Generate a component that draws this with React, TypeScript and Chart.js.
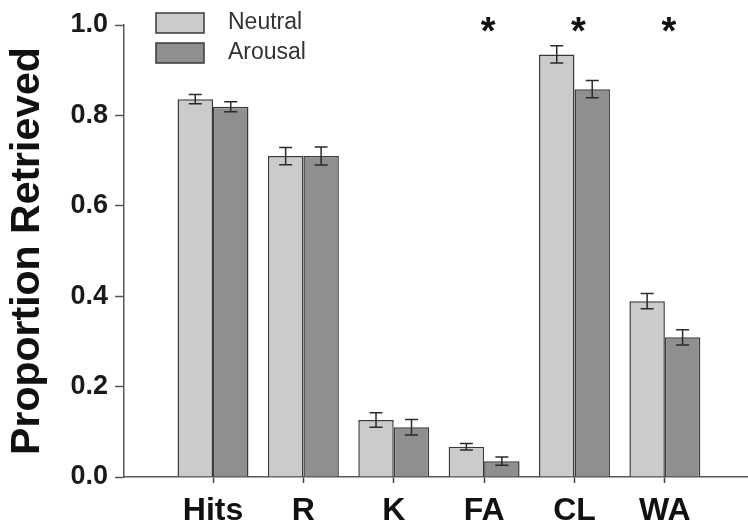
import React, { useEffect, useRef } from "react";
import { Chart, registerables } from "chart.js";

Chart.register(...registerables);

const categories = ["Hits", "R", "K", "FA", "CL", "WA"];
const neutralValues = [0.836, 0.71, 0.126, 0.067, 0.935, 0.389];
const neutralErrors = [0.01, 0.019, 0.016, 0.007, 0.019, 0.017];
const arousalValues = [0.819, 0.71, 0.11, 0.035, 0.858, 0.309];
const arousalErrors = [0.011, 0.02, 0.017, 0.009, 0.019, 0.017];
const significant = [false, false, false, true, true, true];
const yTickValues = [0, 0.2, 0.4, 0.6, 0.8, 1.0];
const seriesNames = ["Neutral", "Arousal"];

const FONT = "'Liberation Sans', Arial, Helvetica, sans-serif";
const NEUTRAL_FILL = "#cbcbcb";
const AROUSAL_FILL = "#8f8f8f";
const EDGE = "#3a3a3a";

const valueSets = [neutralValues, arousalValues];
const errorSets = [neutralErrors, arousalErrors];
const fills = [NEUTRAL_FILL, AROUSAL_FILL];

const errorBarPlugin = {
  id: "errorBars",
  afterDatasetsDraw(chart: any) {
    const ctx = chart.ctx;
    const y = chart.scales.y;
    ctx.save();
    ctx.strokeStyle = "#2a2a2a";
    ctx.lineWidth = 1.5;
    chart.data.datasets.forEach((_: any, d: number) => {
      const meta = chart.getDatasetMeta(d);
      meta.data.forEach((bar: any, i: number) => {
        const v = valueSets[d][i];
        const e = errorSets[d][i];
        const x = bar.x;
        const y1 = y.getPixelForValue(v + e);
        const y2 = y.getPixelForValue(v - e);
        const cap = 6.5;
        ctx.beginPath();
        ctx.moveTo(x, y1);
        ctx.lineTo(x, y2);
        ctx.moveTo(x - cap, y1);
        ctx.lineTo(x + cap, y1);
        ctx.moveTo(x - cap, y2);
        ctx.lineTo(x + cap, y2);
        ctx.stroke();
      });
    });
    ctx.restore();
  },
};

const extrasPlugin = {
  id: "extras",
  afterDraw(chart: any) {
    const ctx = chart.ctx;
    const xs = chart.scales.x;
    ctx.save();
    // legend
    seriesNames.forEach((name, k) => {
      const top = 13 + k * 30;
      ctx.fillStyle = fills[k];
      ctx.fillRect(156, top, 48, 20);
      ctx.strokeStyle = EDGE;
      ctx.lineWidth = 1.5;
      ctx.strokeRect(156, top, 48, 20);
      ctx.fillStyle = "#333";
      ctx.font = `23px ${FONT}`;
      ctx.textBaseline = "middle";
      ctx.textAlign = "left";
      ctx.fillText(name, 228, top + 10);
    });
    // significance asterisks
    ctx.fillStyle = "#111";
    ctx.font = `bold 38px ${FONT}`;
    ctx.textAlign = "center";
    ctx.textBaseline = "alphabetic";
    significant.forEach((s, i) => {
      if (!s) return;
      const x = xs.getPixelForValue(i) + 4;
      ctx.fillText("*", x, 44);
    });
    ctx.restore();
  },
};

export default function App() {
  const ref = useRef<HTMLCanvasElement | null>(null);
  useEffect(() => {
    document.body.style.margin = "0";
    if (!ref.current) return;
    const chart = new Chart(ref.current, {
      type: "bar",
      data: {
        datasets: seriesNames.map((name, d) => ({
          label: name,
          data: categories.map((_, i) => ({ x: i, y: valueSets[d][i] })),
          backgroundColor: fills[d],
          borderColor: EDGE,
          borderWidth: 1.5,
          categoryPercentage: 0.785,
          barPercentage: 1,
        })),
      },
      options: {
        responsive: false,
        animation: false,
        devicePixelRatio: 1,
        layout: { padding: { top: 25, right: 0, left: 0, bottom: 0 } },
        plugins: { legend: { display: false }, tooltip: { enabled: false } },
        scales: {
          x: {
            type: "linear",
            min: -0.985,
            max: 5.92,
            offset: false,
            grid: {
              display: true,
              offset: false,
              drawOnChartArea: false,
              drawTicks: true,
              tickLength: 6,
              tickColor: "#444",
              tickWidth: 1.5,
            },
            border: { display: true, color: "#555", width: 1.5 },
            afterBuildTicks: (s: any) => {
              s.ticks = categories.map((_, i) => ({ value: i }));
            },
            afterFit: (s: any) => {
              s.height = 48;
            },
            ticks: {
              autoSkip: false,
              maxRotation: 0,
              padding: 9,
              color: "#111",
              font: { family: FONT, size: 32, weight: "bold" },
              callback: (v: any) => categories[Math.round(v)] ?? "",
            },
          },
          y: {
            min: 0,
            max: 1,
            afterBuildTicks: (s: any) => {
              s.ticks = yTickValues.map((v) => ({ value: v }));
            },
            afterFit: (s: any) => {
              s.width = 124;
            },
            grid: {
              display: true,
              drawOnChartArea: false,
              drawTicks: true,
              tickLength: 9,
              tickColor: "#555",
              tickWidth: 1.5,
            },
            border: { display: true, color: "#555", width: 1.5 },
            ticks: {
              padding: 7,
              color: "#1a1a1a",
              font: { family: FONT, size: 27, weight: "bold" },
              callback: (v: any) => Number(v).toFixed(1),
            },
            title: {
              display: true,
              text: "Proportion Retrieved",
              color: "#111",
              font: { family: FONT, size: 41, weight: "bold" },
              padding: { top: 3, bottom: 0 },
            },
          },
        },
      },
      plugins: [errorBarPlugin, extrasPlugin],
    } as any);
    return () => chart.destroy();
  }, []);
  return (
    <div style={{ width: 748, height: 525 }}>
      <canvas ref={ref} width={748} height={525} style={{ display: "block" }} />
    </div>
  );
}
